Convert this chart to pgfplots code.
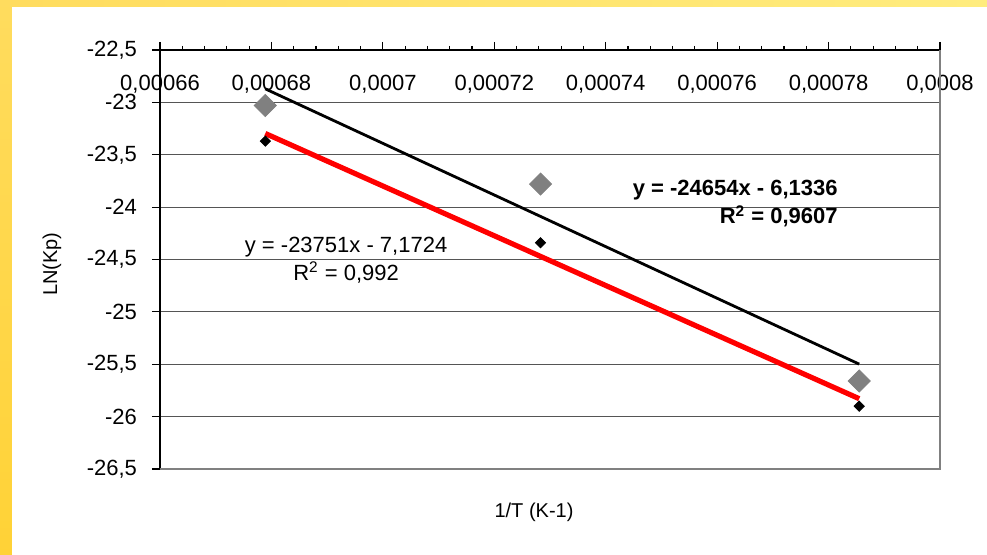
\documentclass[border=0pt]{standalone}
\usepackage{fontspec}
\setmainfont{Liberation Sans}
\usepackage{pgfplots}
\pgfplotsset{compat=1.18}
\definecolor{ylwA}{HTML}{FFDC5E}
\definecolor{ylwB}{HTML}{FFD236}
\definecolor{ylwC}{HTML}{FFEC7E}
\definecolor{grd}{HTML}{555555}
\begin{document}
\begin{tikzpicture}
% background
\fill[white] (-80pt,-43pt) rectangle (413.5pt,234.5pt);
\shade[top color=ylwA, bottom color=ylwB] (-80pt,-43pt) rectangle (-74pt,234.5pt);
\shade[left color=ylwA, right color=ylwC] (-74pt,231pt) rectangle (413.5pt,234.5pt);
\begin{axis}[
  scale only axis,
  width=390pt, height=209.5pt,
  xmin=0.00066, xmax=0.0008,
  ymin=-26.5, ymax=-22.5,
  axis x line*=top,
  axis y line*=left,
  axis line style={black, line width=0.8pt},
  tick align=outside,
  tick style={black, line width=0.6pt},
  major tick length=4pt,
  minor tick length=2pt,
  xtick={0.00066,0.00068,0.0007,0.00072,0.00074,0.00076,0.00078,0.0008},
  minor x tick num=4,
  ytick={-26.5,-26,-25.5,-25,-24.5,-24,-23.5,-23,-22.5},
  ymajorgrids,
  major grid style={grd, line width=0.5pt},
  scaled x ticks=false,
  xticklabel style={/pgf/number format/fixed, /pgf/number format/precision=5,
    /pgf/number format/use comma, /pgf/number format/1000 sep={},
    /tikz/anchor=north, /tikz/yshift=-13pt},
  yticklabel style={/pgf/number format/use comma, /pgf/number format/1000 sep={},
    /tikz/anchor=east, /tikz/xshift=-4pt},
  /pgf/number format/assume math mode=true,
  ticklabel style={font=\fontsize{11}{13}\selectfont},
  xlabel={1/T (K-1)},
  ylabel={LN(Kp)},
  label style={font=\fontsize{10}{12}\selectfont},
  xlabel style={at={(axis description cs:0.4795,-0.1026)}, anchor=center},
  ylabel style={at={(axis description cs:-0.1385,0.489)}, anchor=center},
  clip=false,
]
% borders (bottom and right, gray)
\draw[gray, line width=1pt] (rel axis cs:0,0) -- (rel axis cs:1,0) -- (rel axis cs:1,1);
% series 1: gray diamonds
\addplot[only marks, mark=square*, mark size=3.9pt, color=gray,
  mark options={rotate=45, fill=gray, draw=gray}] coordinates {
  (0.0006789,-23.03) (0.0007283,-23.78) (0.0007855,-25.66)
};
% series 2: small black diamonds
\addplot[only marks, mark=square*, mark size=1.8pt, color=black,
  mark options={rotate=45, fill=black}] coordinates {
  (0.0006789,-23.37) (0.0007283,-24.34) (0.0007855,-25.90)
};
% trendline series 1 (black)
\addplot[black, line width=1.4pt, mark=none] coordinates {
  (0.0006789,-22.871) (0.0007855,-25.499)
};
% trendline series 2 (red)
\addplot[red, line width=2.6pt, mark=none] coordinates {
  (0.0006789,-23.297) (0.0007855,-25.829)
};
\node[anchor=east, align=right, font=\fontsize{11}{14}\selectfont\bfseries, inner sep=0pt]
  at (axis cs:0.0007817,-23.97) {y = -24654x - 6,1336\\R\textsuperscript{2} = 0,9607};
\node[anchor=center, align=center, font=\fontsize{11}{14}\selectfont, inner sep=0pt]
  at (axis cs:0.0006934,-24.51) {y = -23751x - 7,1724\\R\textsuperscript{2} = 0,992};
\end{axis}
\useasboundingbox (-80pt,-43pt) rectangle (413.5pt,234.5pt);
\end{tikzpicture}
\end{document}
